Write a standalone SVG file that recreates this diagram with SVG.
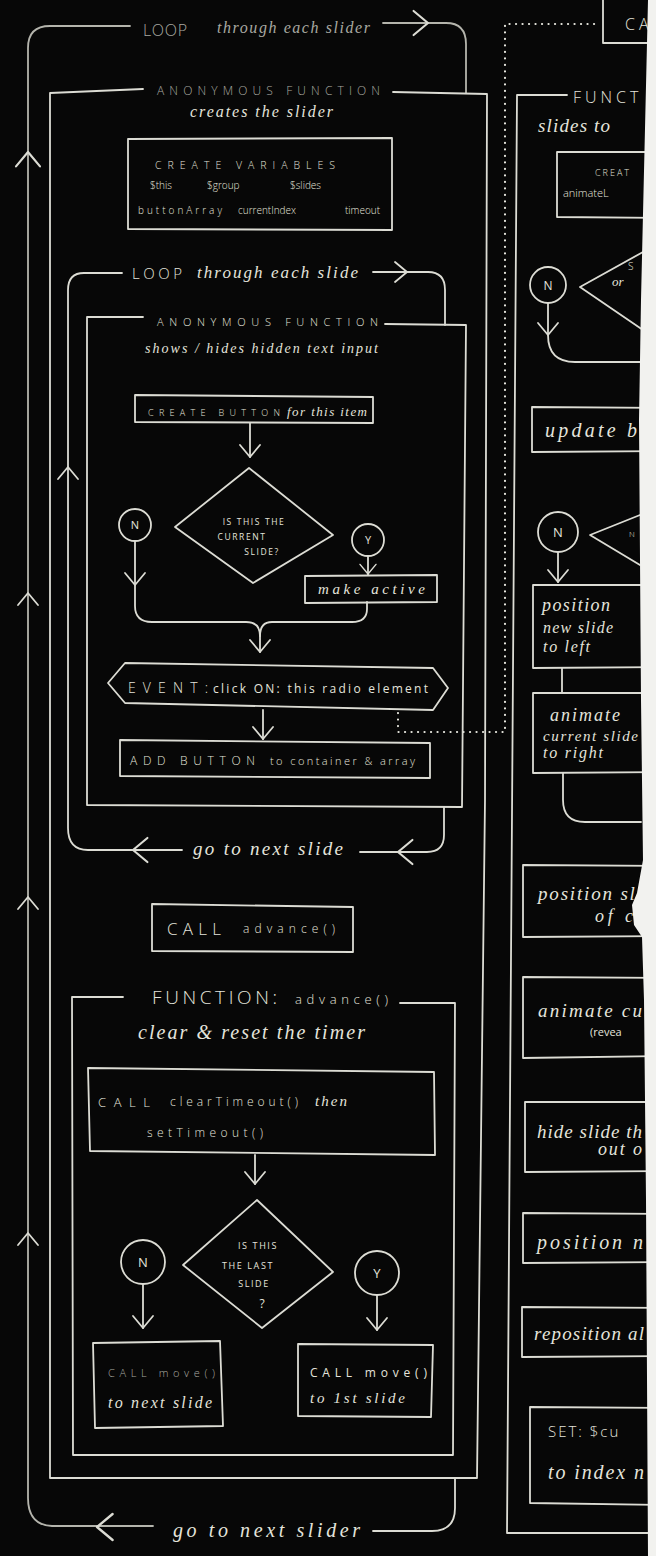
<svg xmlns="http://www.w3.org/2000/svg" xmlns:xlink="http://www.w3.org/1999/xlink" width="656" height="1556" viewBox="0 0 656 1556">
<style>
.ln{fill:none;stroke:#dcdcd4;stroke-width:1.8;stroke-linecap:round;stroke-linejoin:round}
.dim{stroke:#b4b4ac}
.dot{fill:none;stroke:#e6e6de;stroke-width:2.2;stroke-linecap:round;stroke-dasharray:0.1 6.4}
.cap{font-family:"Open Sans","DejaVu Sans",sans-serif;font-weight:300;fill:#e4e4dc}
.reg{font-weight:400}
.scr{font-family:"Liberation Serif","DejaVu Serif",serif;font-style:italic;fill:#e4e4dc}
.fade{fill:#a9a9a1}
.mid{text-anchor:middle}
</style>
<defs>
<path id="chev" d="M-10,-12 L0,0 L10,-12" class="ln"/>
</defs>
<rect x="0" y="0" width="656" height="1556" fill="#070707"/>

<g id="connectors">
  <!-- outer loop: through each slider -->
  <path class="ln dim" d="M130,26 H50 Q28,26 28,48 V1498 Q28,1525 52,1526 H153"/>
  <path class="ln dim" d="M383,23 H446 Q466,23 466,44 V93"/>
  <path class="ln" d="M373,1531 H432 Q455,1531 455,1508 V1478"/>
  <use href="#chev" transform="translate(428,23) rotate(-90) scale(1.2)"/>
  <use href="#chev" transform="translate(28,152) rotate(180) scale(1.2)"/>
  <use href="#chev" transform="translate(28,593) rotate(180)"/>
  <use href="#chev" transform="translate(28,897) rotate(180)"/>
  <use href="#chev" transform="translate(28,1233) rotate(180)"/>
  <use href="#chev" transform="translate(97,1527) rotate(90) scale(1.3)"/>
  <!-- inner loop: through each slide -->
  <path class="ln" d="M122,273 H84 Q68,273 68,290 V828 Q68,850 88,850 H182"/>
  <path class="ln" d="M373,272 H428 Q445,272 445,290 V325"/>
  <path class="ln" d="M360,852 H427 Q444,852 444,835 V807"/>
  <use href="#chev" transform="translate(407,272) rotate(-90)"/>
  <use href="#chev" transform="translate(68,467) rotate(180)"/>
  <use href="#chev" transform="translate(133,850) rotate(90) scale(1.2)"/>
  <use href="#chev" transform="translate(398,852) rotate(90) scale(1.2)"/>
  <!-- inner flow -->
  <path class="ln" d="M250,423 V457"/>
  <use href="#chev" transform="translate(250,457)"/>
  <path class="ln" d="M135,541 V606 Q135,622 152,622 H246 Q260,622 260,636 V652"/>
  <use href="#chev" transform="translate(135,585)"/>
  <path class="ln" d="M368,556 V575"/>
  <use href="#chev" transform="translate(368,574) scale(0.8)"/>
  <path class="ln" d="M367,602 V609 Q367,622 352,622 H272 Q260,622 260,636"/>
  <use href="#chev" transform="translate(260,652)"/>
  <path class="ln" d="M263,710 V739"/>
  <use href="#chev" transform="translate(263,739)"/>
  <!-- advance flow -->
  <path class="ln" d="M255,1155 V1184"/>
  <use href="#chev" transform="translate(255,1184)"/>
  <path class="ln" d="M143,1284 V1328"/>
  <use href="#chev" transform="translate(143,1328)"/>
  <path class="ln" d="M377,1295 V1330"/>
  <use href="#chev" transform="translate(377,1330)"/>
  <!-- dotted link -->
  <path class="dot" d="M398,713 V732 H505 V24 H597"/>
  <!-- right column -->
  <path class="ln" d="M548,303 V335 Q548,362 575,362 H641"/>
  <use href="#chev" transform="translate(548,335)"/>
  <path class="ln" d="M558,552 V582"/>
  <use href="#chev" transform="translate(558,582)"/>
  <path class="ln" d="M562,668 V693"/>
  <path class="ln" d="M563,773 V800 Q563,822 585,822 H641"/>
</g>

<g id="anon-slider">
  <path class="ln" d="M143,89 L50,93 L50,1478 L477,1478 L485,800 L487,94 L393,92"/>
  <text class="cap fade" x="157" y="95" font-size="12" textLength="223" lengthAdjust="spacing">ANONYMOUS FUNCTION</text>
  <text class="scr" x="190" y="117" font-size="16" textLength="143" lengthAdjust="spacing">creates the slider</text>
</g>

<g id="loop-slider-label">
  <text class="cap fade" x="143" y="36" font-size="16" textLength="44" lengthAdjust="spacing">LOOP</text>
  <text class="scr fade" x="217" y="33" font-size="16" textLength="153" lengthAdjust="spacing">through each slider</text>
  <text class="scr" x="173" y="1537" font-size="20" textLength="187" lengthAdjust="spacing">go to next slider</text>
</g>

<g id="create-variables">
  <path class="ln" d="M128,139 L392,138 L392,230 L128,229 Z"/>
  <text class="cap" x="155" y="169" font-size="10.5" textLength="180" lengthAdjust="spacing">CREATE VARIABLES</text>
  <text class="cap" y="189" font-size="10"><tspan x="150">$this</tspan><tspan x="207">$group</tspan><tspan x="290">$slides</tspan></text>
  <text class="cap" y="214" font-size="10"><tspan x="138" textLength="84" lengthAdjust="spacing">buttonArray</tspan><tspan x="238">currentIndex</tspan><tspan x="345">timeout</tspan></text>
</g>

<g id="loop-slide-label">
  <text class="cap" x="132" y="279" font-size="15" textLength="50" lengthAdjust="spacing">LOOP</text>
  <text class="scr" x="197" y="278" font-size="17" textLength="161" lengthAdjust="spacing">through each slide</text>
  <text class="scr" x="193" y="855" font-size="19" textLength="150" lengthAdjust="spacing">go to next slide</text>
</g>

<g id="anon-slide">
  <path class="ln" d="M143,317 L87,317 L87,805 L462,807 L466,325 L385,324"/>
  <text class="cap" x="157" y="326" font-size="11" textLength="221" lengthAdjust="spacing">ANONYMOUS FUNCTION</text>
  <text class="scr" x="145" y="353" font-size="14" textLength="233" lengthAdjust="spacing">shows / hides hidden text input</text>
</g>

<g id="create-button">
  <path class="ln" d="M135,395 L373,397 L373,423 L135,422 Z"/>
  <text class="cap" x="148" y="416" font-size="9" textLength="132" lengthAdjust="spacing">CREATE BUTTON</text>
  <text class="scr" x="287" y="416" font-size="13" textLength="80" lengthAdjust="spacing">for this item</text>
</g>

<g id="is-current">
  <path class="ln" d="M249,468 L333,535 L253,583 L175,527 Z"/>
  <text class="cap reg mid" x="254" y="525" font-size="8.5" letter-spacing="1.6">IS THIS THE</text>
  <text class="cap reg mid" x="242" y="540" font-size="8.5" letter-spacing="1.6">CURRENT</text>
  <text class="cap reg mid" x="262" y="555" font-size="8.5" letter-spacing="1.6">SLIDE?</text>
</g>

<g id="n-current">
  <circle class="ln" cx="135" cy="525" r="16"/>
  <text class="cap reg mid" x="135" y="529" font-size="11">N</text>
</g>

<g id="y-current">
  <circle class="ln" cx="368" cy="540" r="16"/>
  <text class="cap reg mid" x="368" y="544" font-size="11">Y</text>
</g>

<g id="make-active">
  <path class="ln" d="M305,576 L437,575 L437,602 L305,603 Z"/>
  <text class="scr" x="318" y="594" font-size="15" textLength="107" lengthAdjust="spacing">make active</text>
</g>

<g id="event-click">
  <path class="ln" d="M108,683 L125,663 L433,668 L448,688 L433,710 L125,703 Z"/>
  <text class="cap" x="128" y="693" font-size="14" textLength="80" lengthAdjust="spacing">EVENT:</text>
  <text class="cap reg" x="213" y="693" font-size="12" textLength="215" lengthAdjust="spacing">click ON: this radio element</text>
</g>

<g id="add-button">
  <path class="ln" d="M120,740 L430,743 L430,778 L120,776 Z"/>
  <text class="cap" x="130" y="765" font-size="12" textLength="125" lengthAdjust="spacing">ADD BUTTON</text>
  <text class="cap" x="270" y="765" font-size="11" textLength="145" lengthAdjust="spacing">to container &amp; array</text>
</g>

<g id="call-advance">
  <path class="ln" d="M152,904 L353,907 L353,952 L152,951 Z"/>
  <text class="cap" x="167" y="935" font-size="17" textLength="54" lengthAdjust="spacing">CALL</text>
  <text class="cap" x="243" y="933" font-size="12" textLength="92" lengthAdjust="spacing">advance()</text>
</g>

<g id="function-advance">
  <path class="ln" d="M123,997 L72,997 L73,1455 L453,1455 L455,1003 L400,1003"/>
  <text class="cap" x="152" y="1004" font-size="19" textLength="125" lengthAdjust="spacing">FUNCTION:</text>
  <text class="cap" x="295" y="1004" font-size="13" textLength="93" lengthAdjust="spacing">advance()</text>
  <text class="scr" x="138" y="1039" font-size="20" textLength="227" lengthAdjust="spacing">clear &amp; reset the timer</text>
</g>

<g id="call-timeout">
  <path class="ln" d="M88,1068 L434,1072 L435,1155 L90,1151 Z"/>
  <text class="cap" x="98" y="1107" font-size="13" textLength="52" lengthAdjust="spacing">CALL</text>
  <text class="cap" x="170" y="1106" font-size="12" textLength="128" lengthAdjust="spacing">clearTimeout()</text>
  <text class="scr" x="315" y="1106" font-size="15" textLength="32" lengthAdjust="spacing">then</text>
  <text class="cap" x="147" y="1137" font-size="12" textLength="116" lengthAdjust="spacing">setTimeout()</text>
</g>

<g id="is-last">
  <path class="ln" d="M257,1200 L333,1272 L262,1328 L183,1265 Z"/>
  <text class="cap reg mid" x="258" y="1249" font-size="9" letter-spacing="1.6">IS THIS</text>
  <text class="cap reg mid" x="248" y="1269" font-size="9" letter-spacing="1.6">THE LAST</text>
  <text class="cap reg mid" x="254" y="1287" font-size="9" letter-spacing="1.6">SLIDE</text>
  <text class="cap reg mid" x="262" y="1308" font-size="12">?</text>
</g>

<g id="n-last">
  <circle class="ln" cx="143" cy="1262" r="22"/>
  <text class="cap reg mid" x="143" y="1267" font-size="13">N</text>
</g>

<g id="y-last">
  <circle class="ln" cx="377" cy="1273" r="22"/>
  <text class="cap reg mid" x="377" y="1278" font-size="13">Y</text>
</g>

<g id="move-next">
  <path class="ln" d="M93,1343 L220,1341 L223,1426 L95,1428 Z"/>
  <text class="cap fade" x="108" y="1377" font-size="11" textLength="107" lengthAdjust="spacing">CALL move()</text>
  <text class="scr" x="108" y="1408" font-size="16" textLength="104" lengthAdjust="spacing">to next slide</text>
</g>

<g id="move-first">
  <path class="ln" d="M298,1344 L433,1345 L431,1417 L298,1416 Z"/>
  <text class="cap reg" x="310" y="1377" font-size="12" textLength="117" lengthAdjust="spacing">CALL move()</text>
  <text class="scr" x="310" y="1403" font-size="15" textLength="95" lengthAdjust="spacing">to 1st slide</text>
</g>

<!-- right column -->
<g id="call-right">
  <path class="ln" d="M603,-2 L603,43 L660,43"/>
  <text class="cap" x="625" y="30" font-size="16" letter-spacing="4">CA</text>
</g>

<g id="function-right">
  <path class="ln" d="M567,95 L517,95 L507,1533 L660,1533"/>
  <text class="cap" x="573" y="103" font-size="16" letter-spacing="4">FUNCT</text>
  <text class="scr" x="538" y="132" font-size="19" textLength="72" lengthAdjust="spacing">slides to</text>
</g>

<g id="create-right">
  <path class="ln" d="M660,152 L557,152 L557,217 L660,218"/>
  <text class="cap" x="595" y="176" font-size="9" letter-spacing="2">CREAT</text>
  <text class="cap" x="563" y="197" font-size="11">animateL</text>
</g>

<g id="n-right-1">
  <circle class="ln" cx="548" cy="285" r="18"/>
  <text class="cap reg mid" x="548" y="290" font-size="12">N</text>
</g>

<g id="diamond-right-1">
  <path class="ln" d="M643,252 L580,287 L643,330"/>
  <text class="cap" x="628" y="270" font-size="10">S</text>
  <text class="scr" x="612" y="286" font-size="13">or</text>
</g>

<g id="update-right">
  <path class="ln" d="M660,408 L532,407 L532,452 L660,451"/>
  <text class="scr" x="545" y="437" font-size="20" textLength="92" lengthAdjust="spacing">update b</text>
</g>

<g id="n-right-2">
  <circle class="ln" cx="558" cy="532" r="20"/>
  <text class="cap reg mid" x="558" y="537" font-size="13">N</text>
</g>

<g id="diamond-right-2">
  <path class="ln" d="M640,515 L590,535 L640,565"/>
  <text class="cap" x="629" y="537" font-size="8">N</text>
</g>

<g id="position-left">
  <path class="ln" d="M660,585 L533,585 L533,668 L660,667"/>
  <text class="scr" x="542" y="611" font-size="18" textLength="68" lengthAdjust="spacing">position</text>
  <text class="scr" x="543" y="633" font-size="16" textLength="70" lengthAdjust="spacing">new slide</text>
  <text class="scr" x="543" y="652" font-size="16" textLength="47" lengthAdjust="spacing">to left</text>
</g>

<g id="animate-right">
  <path class="ln" d="M660,693 L533,693 L533,773 L660,772"/>
  <text class="scr" x="550" y="721" font-size="18" textLength="70" lengthAdjust="spacing">animate</text>
  <text class="scr" x="543" y="741" font-size="15" textLength="95" lengthAdjust="spacing">current slide</text>
  <text class="scr" x="543" y="758" font-size="16" textLength="60" lengthAdjust="spacing">to right</text>
</g>

<g id="position-slide">
  <path class="ln" d="M660,866 L523,865 L523,937 L660,936"/>
  <text class="scr" x="538" y="900" font-size="19" textLength="104" lengthAdjust="spacing">position sli</text>
  <text class="scr" x="595" y="922" font-size="18" textLength="38" lengthAdjust="spacing">of c</text>
</g>

<g id="animate-reveal">
  <path class="ln" d="M660,978 L523,977 L523,1058 L660,1056"/>
  <text class="scr" x="538" y="1017" font-size="19" textLength="104" lengthAdjust="spacing">animate cu</text>
  <text class="cap reg" x="590" y="1036" font-size="11">(revea</text>
</g>

<g id="hide-slide">
  <path class="ln" d="M660,1102 L525,1102 L525,1172 L660,1171"/>
  <text class="scr" x="537" y="1138" font-size="19" textLength="105" lengthAdjust="spacing">hide slide th</text>
  <text class="scr" x="598" y="1155" font-size="18" textLength="44" lengthAdjust="spacing">out o</text>
</g>

<g id="position-new">
  <path class="ln" d="M660,1214 L523,1213 L523,1263 L660,1262"/>
  <text class="scr" x="537" y="1249" font-size="20" textLength="106" lengthAdjust="spacing">position n</text>
</g>

<g id="reposition">
  <path class="ln" d="M660,1308 L522,1307 L522,1357 L660,1356"/>
  <text class="scr" x="534" y="1340" font-size="19" textLength="110" lengthAdjust="spacing">reposition al</text>
</g>

<g id="set-current">
  <path class="ln" d="M660,1408 L530,1407 L530,1503 L660,1505"/>
  <text class="cap" x="548" y="1437" font-size="15" letter-spacing="2">SET: $cu</text>
  <text class="scr" x="548" y="1479" font-size="20" textLength="96" lengthAdjust="spacing">to index n</text>
</g>

<path id="page-edge" d="M648,0 L641,300 L639,420 L641,700 L643,860 L637,893 L632,905 L634,925 L642,937 L644,1000 L646,1200 L648,1556 L656,1556 L656,0 Z" fill="#f2f2ef"/>
</svg>
